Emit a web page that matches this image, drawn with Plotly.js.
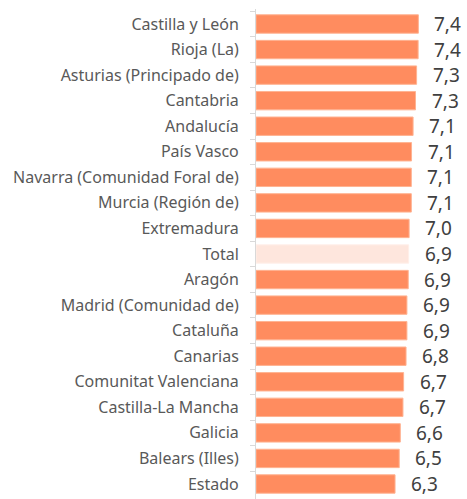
<!DOCTYPE html>
<html>
<head>
<meta charset="utf-8">
<script src="https://cdn.plot.ly/plotly-3.0.1.min.js"></script>
<style>html,body{margin:0;padding:0;background:#fff;}#chart{width:467px;height:499px;}</style>
</head>
<body>
<div id="chart"></div>
<script>
const categories = ["Castilla y León","Rioja (La)","Asturias (Principado de)","Cantabria","Andalucía","País Vasco","Navarra (Comunidad Foral de)","Murcia (Región de)","Extremadura","Total","Aragón","Madrid (Comunidad de)","Cataluña","Canarias","Comunitat Valenciana","Castilla-La Mancha","Galicia","Balears (Illes)","Estado"];
const values = [7.38,7.37,7.30,7.25,7.14,7.07,7.06,7.06,6.96,6.94,6.92,6.86,6.86,6.82,6.71,6.68,6.56,6.51,6.32];
const valueLabels = ["7,4","7,4","7,3","7,3","7,1","7,1","7,1","7,1","7,0","6,9","6,9","6,9","6,9","6,8","6,7","6,7","6,6","6,5","6,3"];
const highlight = "Total";

const colors = categories.map(c => c === highlight ? "#FEE6DD" : "#FF8C5F");
const lines = categories.map(c => c === highlight ? "#FFF0EA" : "#FFB392");

const trace = {
  type: "bar",
  orientation: "h",
  x: values,
  y: categories,
  marker: {color: colors, line: {color: lines, width: 1}},
  hoverinfo: "none"
};

const annotations = categories.map((c, i) => ({
  x: values[i], y: c, xref: "x", yref: "y",
  text: valueLabels[i], showarrow: false,
  xanchor: "left", yanchor: "middle", xshift: 14,
  font: {family: "Noto Sans", size: 19, color: "#404040"}
}));

const layout = {
  width: 467, height: 499,
  margin: {l: 256, r: 13, t: 9, b: 0},
  paper_bgcolor: "#fff", plot_bgcolor: "#fff",
  bargap: 0.28,
  showlegend: false,
  xaxis: {range: [0, 9], visible: false, fixedrange: true},
  yaxis: {
    type: "category",
    autorange: "reversed",
    showline: true, linecolor: "#D9D9D9", linewidth: 1,
    ticks: "outside", ticklen: 5, tickcolor: "#D9D9D9", tickwidth: 1,
    tickson: "boundaries",
    ticklabelstandoff: 13,
    showgrid: false, zeroline: false,
    tickfont: {family: "Noto Sans", size: 16, color: "#595959"}
  },
  annotations: annotations
};

Plotly.newPlot("chart", [trace], layout, {displayModeBar: false, staticPlot: true});
</script>
</body>
</html>
